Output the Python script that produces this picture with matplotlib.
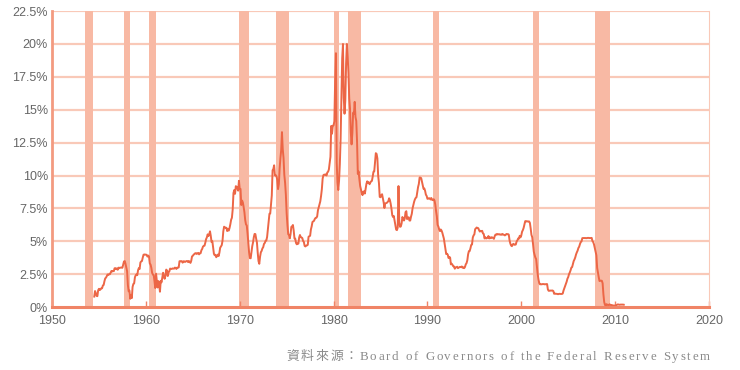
import matplotlib.pyplot as plt
import numpy as np

# Effective federal funds rate, monthly, Jul 1954 - Dec 2010 (%)
start_year = 1954 + 6 / 12
rates = [
    # 1954 (Jul-Dec)
    0.80, 1.22, 1.06, 0.85, 0.83, 1.28,
    # 1955
    1.39, 1.29, 1.35, 1.43, 1.43, 1.64, 1.68, 1.96, 2.18, 2.24, 2.35, 2.48,
    # 1956
    2.45, 2.50, 2.50, 2.62, 2.75, 2.71, 2.75, 2.73, 2.95, 2.96, 2.88, 2.94,
    # 1957
    2.84, 3.00, 2.96, 3.00, 3.00, 3.00, 2.99, 3.24, 3.47, 3.50, 3.28, 2.98,
    # 1958
    2.72, 1.67, 1.20, 1.26, 0.63, 0.93, 0.68, 1.53, 1.76, 1.80, 2.27, 2.42,
    # 1959
    2.48, 2.43, 2.80, 2.96, 2.90, 3.39, 3.47, 3.50, 3.76, 3.98, 4.00, 3.99,
    # 1960
    3.99, 3.97, 3.84, 3.92, 3.85, 3.32, 3.23, 2.98, 2.60, 2.47, 2.44, 1.98,
    # 1961
    1.45, 2.54, 2.02, 1.49, 1.98, 1.73, 1.17, 2.00, 1.88, 2.26, 2.61, 2.33,
    # 1962
    2.15, 2.37, 2.85, 2.78, 2.36, 2.68, 2.71, 2.93, 2.90, 2.90, 2.94, 2.93,
    # 1963
    2.92, 3.00, 2.98, 2.90, 3.00, 2.99, 3.02, 3.49, 3.48, 3.50, 3.48, 3.38,
    # 1964
    3.48, 3.48, 3.43, 3.47, 3.50, 3.50, 3.42, 3.50, 3.45, 3.36, 3.52, 3.85,
    # 1965
    3.90, 3.98, 4.04, 4.09, 4.10, 4.04, 4.09, 4.12, 4.01, 4.08, 4.10, 4.32,
    # 1966
    4.42, 4.60, 4.65, 4.67, 4.90, 5.17, 5.30, 5.53, 5.40, 5.53, 5.76, 5.40,
    # 1967
    4.94, 5.00, 4.53, 4.05, 3.94, 3.98, 3.79, 3.90, 3.99, 3.88, 4.13, 4.51,
    # 1968
    4.61, 4.71, 5.05, 5.76, 6.11, 6.07, 6.02, 6.03, 5.78, 5.91, 5.82, 6.02,
    # 1969
    6.30, 6.64, 6.79, 7.41, 8.67, 8.90, 8.61, 9.19, 9.15, 9.00, 8.85, 9.60,
    # 1970
    8.98, 8.98, 7.76, 8.10, 7.95, 7.61, 7.21, 6.61, 6.29, 6.20, 5.60, 4.90,
    # 1971
    4.14, 3.72, 3.71, 4.16, 4.63, 4.91, 5.31, 5.56, 5.55, 5.20, 4.91, 4.14,
    # 1972
    3.50, 3.29, 3.83, 4.17, 4.27, 4.46, 4.55, 4.80, 4.87, 5.04, 5.06, 5.33,
    # 1973
    5.94, 6.58, 7.09, 7.12, 7.84, 8.49, 10.40, 10.50, 10.78, 10.01, 10.03, 9.95,
    # 1974
    9.65, 8.97, 9.35, 10.51, 11.31, 11.93, 13.30, 12.01, 11.34, 10.06, 9.45, 8.53,
    # 1975
    7.13, 6.24, 5.54, 5.49, 5.22, 5.55, 6.10, 6.14, 6.24, 5.82, 5.22, 5.20,
    # 1976
    4.87, 4.77, 4.84, 4.82, 5.29, 5.48, 5.31, 5.29, 5.25, 5.03, 4.95, 4.65,
    # 1977
    4.61, 4.68, 4.69, 4.73, 5.35, 5.39, 5.42, 5.90, 6.14, 6.47, 6.51, 6.56,
    # 1978
    6.70, 6.78, 6.79, 6.89, 7.36, 7.60, 7.81, 8.04, 8.45, 8.96, 9.76, 10.03,
    # 1979
    10.07, 10.06, 10.09, 10.01, 10.24, 10.29, 10.47, 10.94, 11.43, 13.77, 13.18, 13.78,
    # 1980
    13.82, 14.13, 17.19, 19.30, 10.98, 9.47, 8.90, 9.61, 10.87, 12.81, 15.85, 18.90,
    # 1981
    20.00, 15.93, 14.70, 15.72, 18.52, 20.00, 19.04, 17.82, 15.87, 15.08, 13.31, 12.37,
    # 1982
    13.22, 14.78, 14.68, 15.60, 14.45, 14.15, 12.59, 10.12, 10.31, 9.71, 9.20, 8.95,
    # 1983
    8.68, 8.51, 8.77, 8.80, 8.63, 8.98, 9.37, 9.56, 9.45, 9.48, 9.34, 9.47,
    # 1984
    9.56, 9.59, 9.91, 10.29, 10.32, 11.06, 11.70, 11.64, 11.30, 9.99, 9.43, 8.38,
    # 1985
    8.35, 8.50, 8.58, 8.27, 7.97, 7.53, 7.88, 7.90, 7.92, 7.99, 8.05, 8.27,
    # 1986
    8.14, 7.86, 7.48, 6.99, 6.85, 6.92, 6.56, 6.17, 5.89, 5.85, 6.04, 9.20,
    # 1987
    6.43, 6.10, 6.13, 6.37, 6.85, 6.73, 6.58, 6.73, 7.22, 7.29, 6.69, 6.77,
    # 1988
    6.83, 6.58, 6.58, 6.87, 7.09, 7.51, 7.75, 8.01, 8.19, 8.30, 8.35, 8.76,
    # 1989
    9.12, 9.36, 9.85, 9.84, 9.81, 9.53, 9.24, 8.99, 9.02, 8.84, 8.55, 8.45,
    # 1990
    8.23, 8.24, 8.28, 8.26, 8.18, 8.29, 8.15, 8.13, 8.20, 8.11, 7.81, 7.31,
    # 1991
    6.91, 6.25, 6.12, 5.91, 5.78, 5.90, 5.82, 5.66, 5.45, 5.21, 4.81, 4.43,
    # 1992
    4.03, 4.06, 3.98, 3.73, 3.82, 3.76, 3.25, 3.30, 3.22, 3.10, 3.09, 2.92,
    # 1993
    3.02, 3.03, 3.07, 2.96, 3.00, 3.04, 3.06, 3.03, 3.09, 2.99, 3.02, 2.96,
    # 1994
    3.05, 3.25, 3.34, 3.56, 4.01, 4.25, 4.26, 4.47, 4.73, 4.76, 5.29, 5.45,
    # 1995
    5.53, 5.92, 5.98, 6.05, 6.01, 6.00, 5.85, 5.74, 5.80, 5.76, 5.80, 5.60,
    # 1996
    5.56, 5.22, 5.31, 5.22, 5.24, 5.27, 5.40, 5.22, 5.30, 5.24, 5.31, 5.29,
    # 1997
    5.25, 5.19, 5.39, 5.51, 5.50, 5.56, 5.52, 5.54, 5.54, 5.50, 5.52, 5.50,
    # 1998
    5.56, 5.51, 5.49, 5.45, 5.49, 5.56, 5.54, 5.55, 5.51, 5.07, 4.83, 4.68,
    # 1999
    4.63, 4.76, 4.81, 4.74, 4.74, 4.76, 4.99, 5.07, 5.22, 5.20, 5.42, 5.30,
    # 2000
    5.45, 5.73, 5.85, 6.02, 6.27, 6.53, 6.54, 6.50, 6.52, 6.51, 6.51, 6.40,
    # 2001
    5.98, 5.49, 5.31, 4.80, 4.21, 3.97, 3.77, 3.65, 3.07, 2.49, 2.09, 1.82,
    # 2002
    1.73, 1.74, 1.73, 1.75, 1.75, 1.75, 1.73, 1.74, 1.75, 1.75, 1.34, 1.24,
    # 2003
    1.24, 1.26, 1.25, 1.26, 1.26, 1.22, 1.01, 1.03, 1.01, 1.01, 1.00, 0.98,
    # 2004
    1.00, 1.01, 1.00, 1.00, 1.00, 1.03, 1.26, 1.43, 1.61, 1.76, 1.93, 2.16,
    # 2005
    2.28, 2.50, 2.63, 2.79, 3.00, 3.04, 3.26, 3.50, 3.62, 3.78, 4.00, 4.16,
    # 2006
    4.29, 4.49, 4.59, 4.79, 4.94, 4.99, 5.24, 5.25, 5.25, 5.25, 5.25, 5.24,
    # 2007
    5.25, 5.26, 5.26, 5.25, 5.25, 5.25, 5.26, 5.02, 4.94, 4.76, 4.49, 4.24,
    # 2008
    3.94, 2.98, 2.61, 2.28, 1.98, 2.00, 2.01, 2.00, 1.81, 0.97, 0.39, 0.16,
    # 2009
    0.15, 0.22, 0.18, 0.15, 0.18, 0.21, 0.16, 0.16, 0.15, 0.12, 0.12, 0.12,
    # 2010
    0.11, 0.13, 0.16, 0.20, 0.20, 0.18, 0.18, 0.19, 0.19, 0.19, 0.19, 0.18,
]
dates = start_year + np.arange(len(rates)) / 12

# NBER recessions (start, end) as decimal years
rec_start = [1953.55, 1957.65, 1960.30, 1969.90, 1973.85, 1980.00, 1981.50, 1990.55, 2001.20, 2007.90]
rec_end   = [1954.40, 1958.30, 1961.10, 1970.95, 1975.20, 1980.55, 1982.90, 1991.20, 2001.90, 2009.50]

yticks = [0, 2.5, 5, 7.5, 10, 12.5, 15, 17.5, 20, 22.5]
ytick_labels = ["0%", "2.5%", "5%", "7.5%", "10%", "12.5%", "15%", "17.5%", "20%", "22.5%"]
xticks = [1950, 1960, 1970, 1980, 1990, 2000, 2010, 2020]

line_color = "#EC6646"
band_color = "#F8B9A4"
grid_color = "#F9C9B8"
text_color = "#666666"

fig = plt.figure(figsize=(7.4, 3.7), dpi=100)
ax = fig.add_axes([0.0703, 0.170, 0.8878, 0.800])

for s, e in zip(rec_start, rec_end):
    ax.axvspan(s, e, color=band_color, lw=0, zorder=1)

for y in yticks[1:]:
    ax.axhline(y, color=grid_color, lw=1.6, zorder=0.5)

ax.plot(dates, rates, color=line_color, lw=1.4, zorder=3)

ax.set_xlim(1950, 2020)
ax.set_ylim(0, 22.5)
ax.set_yticks(yticks)
ax.set_yticklabels(ytick_labels)
ax.set_xticks(xticks)

ax.spines["top"].set_visible(False)
ax.spines["right"].set_color(grid_color)
ax.spines["right"].set_linewidth(0.8)
ax.spines["left"].set_color("#F39A80")
ax.spines["left"].set_linewidth(2.0)
ax.spines["bottom"].set_color("#F08466")
ax.spines["bottom"].set_linewidth(2.2)
ax.spines["bottom"].set_zorder(4)

ax.tick_params(axis="x", direction="in", length=4, width=1, color="#F08466",
               labelcolor=text_color, labelsize=9, pad=5.5)
ax.tick_params(axis="y", length=0, labelcolor=text_color, labelsize=9, pad=3)
for lab in ax.get_xticklabels() + ax.get_yticklabels():
    lab.set_family("Liberation Sans")

# source note with wide letter spacing, right-aligned
note = "資料來源：Board of Governors of the Federal Reserve System"
fam = ["Liberation Serif", "Noto Sans CJK TC"]
renderer = fig.canvas.get_renderer()
widths = []
for ch in note:
    t = fig.text(0, 0, ch if ch != " " else "a", fontsize=9.3, family=fam)
    widths.append(t.get_window_extent(renderer).width if ch != " " else 3.5)
    t.remove()
spacing = 1.8
total = sum(widths) + spacing * (len(note) - 1)
x = 710 - total
for ch, w in zip(note, widths):
    if ch != " ":
        fig.text(x / 740, 1 - 357 / 370, ch, fontsize=9.3, family=fam,
                 color="#8a8a8a", va="center", ha="left")
    x += w + spacing

fig.savefig("out.png", dpi=100)
